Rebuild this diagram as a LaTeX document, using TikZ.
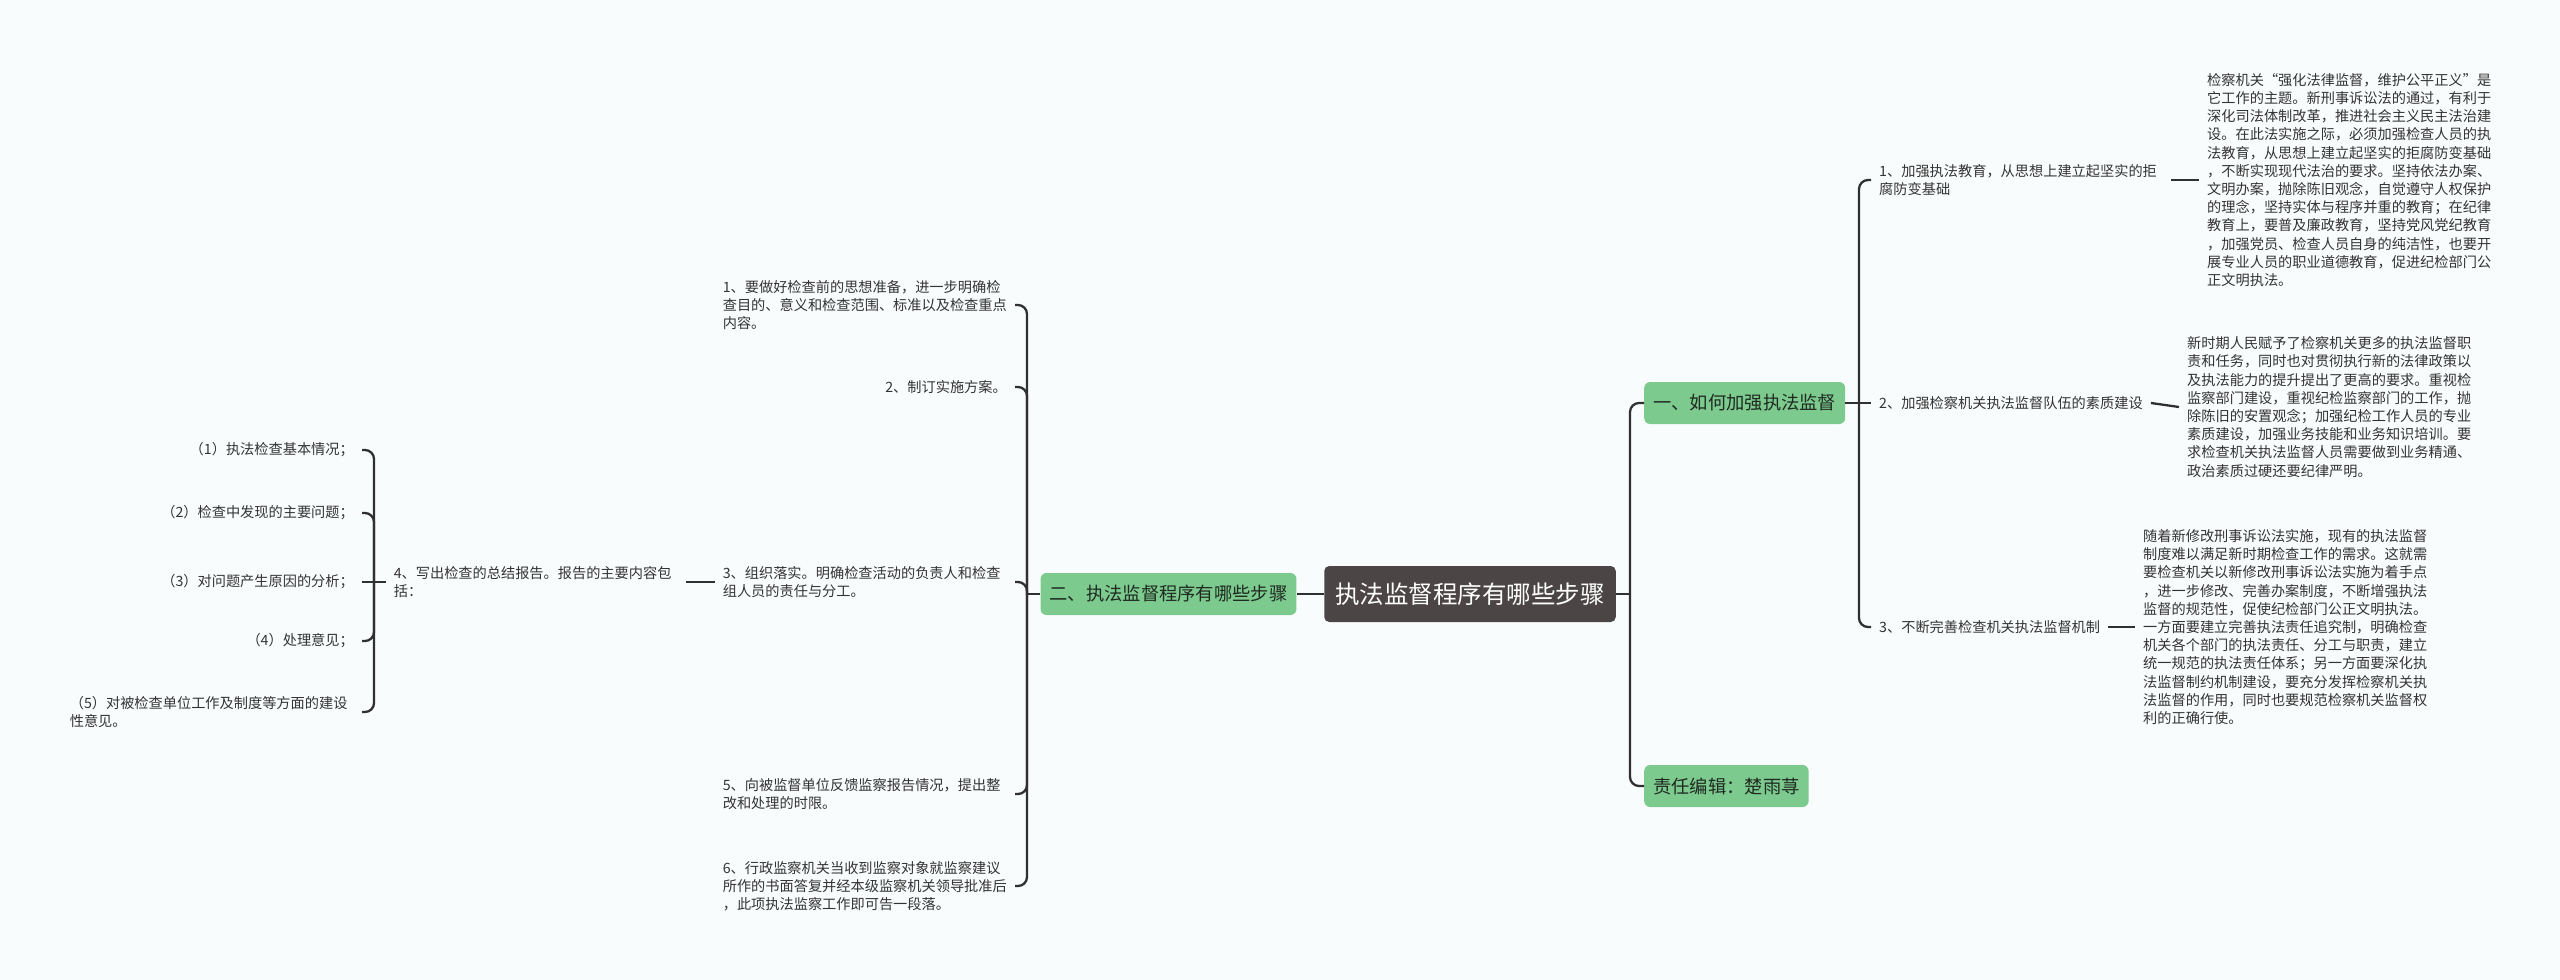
\documentclass[tikz,border=0pt]{standalone}
\usepackage{fontspec}
\setmainfont{Noto Sans CJK SC}
\definecolor{bg}{HTML}{F9FCFD}
\definecolor{ln}{HTML}{303030}
\definecolor{rootc}{HTML}{4B4545}
\definecolor{grn}{HTML}{7DCA8F}
\definecolor{txt}{HTML}{333333}
\definecolor{darktxt}{HTML}{1F2A21}
\tikzset{
  conn/.style={draw=ln, line width=2.3pt, rounded corners=9pt},
  rootnode/.style={fill=rootc, text=white, rounded corners=5pt, font=\fontsize{24.5}{30}\selectfont, minimum height=56pt, inner xsep=11pt},
  topic/.style={fill=grn, text=darktxt, rounded corners=6pt, font=\fontsize{18.3}{22}\selectfont, minimum height=42pt, inner xsep=9pt},
  leaf/.style={text=txt, font=\fontsize{14.2}{18.2}\selectfont, inner xsep=8pt, inner ysep=2pt, align=left},
  wide/.style={leaf, text width=284pt},
}
\begin{document}
\begin{tikzpicture}[x=1pt,y=-1pt]
\fill[bg] (0,0) rectangle (2560,980);
\useasboundingbox (0,0) rectangle (2560,980);

% central and main topics
\node[rootnode] (root) at (1470,594) {执法监督程序有哪些步骤};
\node[topic] (t2) at (1168.5,594) {二、执法监督程序有哪些步骤};
\node[topic, anchor=west] (t1) at (1644,403) {一、如何加强执法监督};
\node[topic, anchor=west] (t3) at (1644,786) {责任编辑：楚雨荨};

\coordinate (j1) at (1630,594);
\draw[conn] (root.east) -- (j1);
\draw[conn] (j1) |- (t1.west);
\draw[conn] (j1) |- (t3.west);
\draw[conn] (root.west) -- (t2.east);

% left branch
\node[wide, anchor=east] (a1) at (1015,305) {1、要做好检查前的思想准备，进一步明确检\\查目的、意义和检查范围、标准以及检查重点\\内容。};
\node[leaf, anchor=east] (a2) at (1015,387) {2、制订实施方案。};
\node[wide, anchor=east] (a3) at (1015,582) {3、组织落实。明确检查活动的负责人和检查\\组人员的责任与分工。};
\node[wide, anchor=east] (a5) at (1015,794) {5、向被监督单位反馈监察报告情况，提出整\\改和处理的时限。};
\node[wide, anchor=east] (a6) at (1015,886) {6、行政监察机关当收到监察对象就监察建议\\所作的书面答复并经本级监察机关领导批准后\\，此项执法监察工作即可告一段落。};
\node[wide, anchor=east] (a4) at (686,582) {4、写出检查的总结报告。报告的主要内容包\\括：};

\coordinate (j2) at (1027,594);
\draw[conn] (t2.west) -- (j2);
\foreach \n in {a1,a2,a3,a5,a6}{\draw[conn] (j2) |- (\n.east);}
\draw[conn] (a3.west) -- (a4.east);

\node[leaf, anchor=east] (b1) at (362,450) {（1）执法检查基本情况；};
\node[leaf, anchor=east] (b2) at (362,513) {（2）检查中发现的主要问题；};
\node[leaf, anchor=east] (b3) at (362,582) {（3）对问题产生原因的分析；};
\node[leaf, anchor=east] (b4) at (362,641) {（4）处理意见；};
\node[wide, anchor=east] (b5) at (362,712) {（5）对被检查单位工作及制度等方面的建设\\性意见。};

\coordinate (j4) at (374,582);
\draw[conn] (a4.west) -- (j4);
\foreach \n in {b1,b2,b4,b5}{\draw[conn] (j4) |- (\n.east);}
\draw[conn] (j4) -- (b3.east);

% right branch
\node[wide, anchor=west] (c1) at (1871,180) {1、加强执法教育，从思想上建立起坚实的拒\\腐防变基础};
\node[leaf, anchor=west] (c2) at (1871,403) {2、加强检察机关执法监督队伍的素质建设};
\node[leaf, anchor=west] (c3) at (1871,627) {3、不断完善检查机关执法监督机制};

\coordinate (j3) at (1859,403);
\draw[conn] (t1.east) -- (j3);
\draw[conn] (j3) |- (c1.west);
\draw[conn] (j3) |- (c3.west);
\draw[conn] (j3) -- (c2.west);

\node[wide, anchor=west] (d1) at (2199,180) {检察机关“强化法律监督，维护公平正义”是\\它工作的主题。新刑事诉讼法的通过，有利于\\深化司法体制改革，推进社会主义民主法治建\\设。在此法实施之际，必须加强检查人员的执\\法教育，从思想上建立起坚实的拒腐防变基础\\，不断实现现代法治的要求。坚持依法办案、\\文明办案，抛除陈旧观念，自觉遵守人权保护\\的理念，坚持实体与程序并重的教育；在纪律\\教育上，要普及廉政教育，坚持党风党纪教育\\，加强党员、检查人员自身的纯洁性，也要开\\展专业人员的职业道德教育，促进纪检部门公\\正文明执法。};
\node[wide, anchor=west] (d2) at (2179,407) {新时期人民赋予了检察机关更多的执法监督职\\责和任务，同时也对贯彻执行新的法律政策以\\及执法能力的提升提出了更高的要求。重视检\\监察部门建设，重视纪检监察部门的工作，抛\\除陈旧的安置观念；加强纪检工作人员的专业\\素质建设，加强业务技能和业务知识培训。要\\求检查机关执法监督人员需要做到业务精通、\\政治素质过硬还要纪律严明。};
\node[wide, anchor=west] (d3) at (2135,627) {随着新修改刑事诉讼法实施，现有的执法监督\\制度难以满足新时期检查工作的需求。这就需\\要检查机关以新修改刑事诉讼法实施为着手点\\，进一步修改、完善办案制度，不断增强执法\\监督的规范性，促使纪检部门公正文明执法。\\一方面要建立完善执法责任追究制，明确检查\\机关各个部门的执法责任、分工与职责，建立\\统一规范的执法责任体系；另一方面要深化执\\法监督制约机制建设，要充分发挥检察机关执\\法监督的作用，同时也要规范检察机关监督权\\利的正确行使。};

\draw[conn] (c1.east) -- (d1.west);
\draw[conn] (c2.east) -- (d2.west);
\draw[conn] (c3.east) -- (d3.west);
\end{tikzpicture}
\end{document}
